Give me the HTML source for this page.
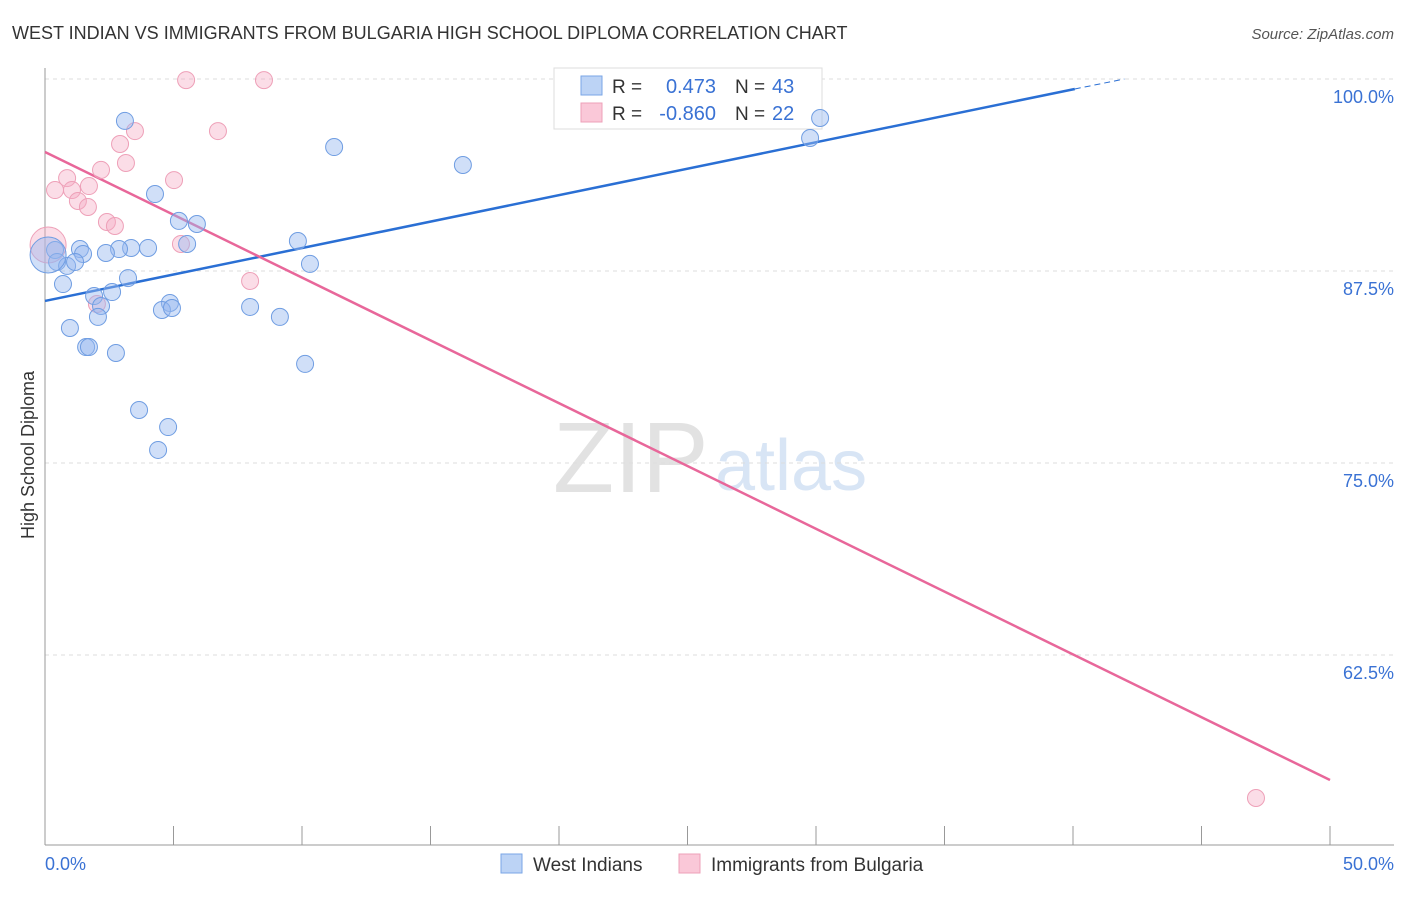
<!DOCTYPE html>
<html><head><meta charset="utf-8"><style>
body{margin:0;background:#fff;font-family:"Liberation Sans",sans-serif;}
svg text{font-family:"Liberation Sans",sans-serif;}
</style></head><body>
<svg id="chart" width="1406" height="892" xmlns="http://www.w3.org/2000/svg">
<text x="12" y="39" font-size="18" fill="#333">WEST INDIAN VS IMMIGRANTS FROM BULGARIA HIGH SCHOOL DIPLOMA CORRELATION CHART</text>
<text x="1394" y="39" font-size="15" fill="#555" text-anchor="end" font-style="italic">Source: ZipAtlas.com</text>
<text x="553" y="492" font-size="100" fill="#e2e2e2" font-family="Liberation Serif">ZIP</text>
<text x="715" y="490" font-size="72" fill="#d8e5f5">atlas</text>
<g id="grid"></g><g id="axes"></g>
<g>
<rect x="554" y="68" width="268" height="61" fill="#fff" stroke="#ddd"/>
<rect x="581" y="76" width="21" height="19" fill="#bcd3f5" stroke="#7aa6e6"/>
<rect x="581" y="103" width="21" height="19" fill="#fac8d8" stroke="#eea0b8"/>
<text x="612" y="93" font-size="19" fill="#333">R =</text>
<text x="716" y="93" font-size="20" fill="#3a72d4" text-anchor="end">0.473</text>
<text x="735" y="93" font-size="19" fill="#333">N =</text>
<text x="772" y="93" font-size="20" fill="#3a72d4">43</text>
<text x="612" y="120" font-size="19" fill="#333">R =</text>
<text x="716" y="120" font-size="20" fill="#3a72d4" text-anchor="end">-0.860</text>
<text x="735" y="120" font-size="19" fill="#333">N =</text>
<text x="772" y="120" font-size="20" fill="#3a72d4">22</text>
</g>
<g id="lines"></g><g id="pts"></g>
<text transform="translate(34,455) rotate(-90)" font-size="18" fill="#333" text-anchor="middle">High School Diploma</text>
<text x="45" y="870" font-size="18" fill="#3a72d4">0.0%</text>
<text x="1394" y="870" font-size="18" fill="#3a72d4" text-anchor="end">50.0%</text>
<g>
<rect x="501" y="854" width="21" height="19" fill="#bcd3f5" stroke="#7aa6e6"/>
<text x="533" y="871" font-size="19" fill="#333">West Indians</text>
<rect x="679" y="854" width="21" height="19" fill="#fac8d8" stroke="#eea0b8"/>
<text x="711" y="871" font-size="19" fill="#333">Immigrants from Bulgaria</text>
</g>
</svg>
<script>
const yTicks=[100,87.5,75,62.5];
const yTickLabels=["100.0%","87.5%","75.0%","62.5%"];
const xTicks=[0,5,10,15,20,25,30,35,40,45,50];
const blueX=[3.11,11.25,16.26,29.77,30.16,4.28,5.21,5.91,5.53,9.84,10.31,4.01,3.35,2.88,2.37,1.36,1.48,0.39,0.47,0.86,1.17,3.23,0.70,2.61,1.91,2.18,2.06,4.86,4.55,4.94,7.98,9.14,0.97,1.60,1.71,2.76,10.12,3.66,4.79,4.40,0.12];
const blueY=[97.27,95.57,94.40,96.16,97.46,92.51,90.76,90.56,89.26,89.45,87.96,89.00,89.00,88.93,88.67,88.93,88.61,88.87,88.09,87.83,88.09,87.04,86.65,86.13,85.87,85.22,84.51,85.42,84.96,85.09,85.16,84.51,83.79,82.55,82.55,82.16,81.45,78.45,77.34,75.85,88.54];
const pinkX=[5.49,8.52,3.50,6.73,2.92,2.18,3.15,0.86,5.02,0.39,1.71,1.05,1.28,1.67,2.41,2.72,5.29,7.98,2.02,47.12,0.12];
const pinkY=[99.93,99.93,96.61,96.61,95.77,94.08,94.53,93.55,93.42,92.77,93.03,92.77,92.06,91.67,90.69,90.43,89.26,86.85,85.35,53.19,89.19];
const blueLine=[[0,85.55],[40.07,99.35]];
const blueDash=[[40.07,99.35],[42.0,100]];
const pinkLine=[[0,95.25],[50,54.36]];
const NS="http://www.w3.org/2000/svg";
const xs=v=>45+v/50*1285;
const ys=v=>79+(100-v)*15.36;
function mk(t,a,p){const e=document.createElementNS(NS,t);for(const k in a)e.setAttribute(k,a[k]);document.getElementById(p).appendChild(e);return e;}
yTicks.forEach((t,i)=>{
 const l=mk('line',{x1:45,x2:1394,y1:ys(t),y2:ys(t),stroke:'#ddd','stroke-dasharray':'4,4'},'grid');
 
 
 const tx=mk('text',{x:1394,y:ys(t)+24,'font-size':18,fill:'#3a72d4','text-anchor':'end'},'grid');
 tx.textContent=yTickLabels[i];
 
 
});
const ax=mk('line',{x1:45,x2:45,y1:68,y2:845,stroke:'#999'},'axes');


const bx=mk('line',{x1:45,x2:1394,y1:845,y2:845,stroke:'#999'},'axes');


xTicks.forEach(t=>{
 const l=mk('line',{x1:xs(t),x2:xs(t),y1:826,y2:845,stroke:'#999'},'axes');
 
 
});
function drawPts(X,Y,fill,stroke,name){
 X.forEach((x,i)=>{
  const big=i===X.length-1;
  const c=mk('circle',{cx:xs(x),cy:ys(Y[i]),r:big?18:8.5,fill:fill,stroke:stroke,'stroke-width':1},'pts');
  
  
 });
}
drawPts(pinkX,pinkY,'rgba(246,170,196,0.4)','#eea0b8','bulgaria-point');
drawPts(blueX,blueY,'rgba(150,185,240,0.45)','#6f9de2','west-indian-point');
function ln(d,c,w,dash,name){
 const l=mk('line',{x1:xs(d[0][0]),y1:ys(d[0][1]),x2:xs(d[1][0]),y2:ys(d[1][1]),stroke:c,'stroke-width':w},'lines');
 if(dash)l.setAttribute('stroke-dasharray',dash);
 
 
}
ln(blueLine,'#2a6fd4',2.5,null,'west-indian-trendline');
ln(blueDash,'#2a6fd4',1,'6,4','west-indian-trendline-extension');
ln(pinkLine,'#e8679a',2.5,null,'bulgaria-trendline');
</script>
</body></html>
